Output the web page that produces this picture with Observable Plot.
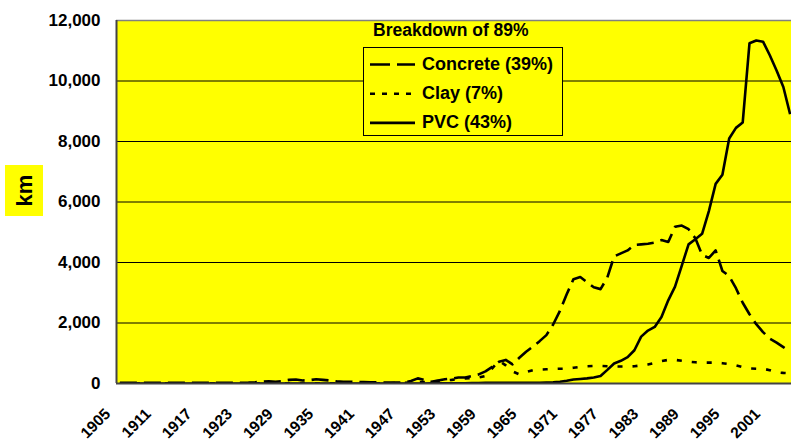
<!DOCTYPE html>
<html><head><meta charset="utf-8">
<script src="https://cdn.jsdelivr.net/npm/d3@7"></script>
<script src="https://cdn.jsdelivr.net/npm/@observablehq/plot@0.6"></script>
<style>
body{margin:0;background:#fff;font-family:"Liberation Sans",Arial,sans-serif;}
#wrap{position:relative;width:791px;height:441px;overflow:hidden;}
#overlay{position:absolute;left:0;top:0;pointer-events:none;}
</style></head>
<body><div id="wrap"></div>
<script>
// ---- data (km per year) ----
const years = d3.range(1905, 2005);
const concrete = [
  20,20,20,20,20,20,20,20,20,20, 20,20,20,20,20,20,20,20,25,30,
  40,60,70,60,80,120,130,100,110,140, 120,100,70,60,60,50,50,40,40,30,
  30,30,40,80,170,120,60,100,
  140,160,200,200,250,300,400,550,720,780, 630,850,1050,1220,1400,1600,1950,2400,2950,3450,
  3520,3350,3180,3120,3500,4200,4300,4400,4580,4600, 4620,4660,4740,4680,5180,5220,5100,4800,4250,4150,
  4400,3720,3550,3150,2670,2290,1960,1700,1480,1350, 1200,1050];
const clay = [
  10,10,10,10,10,10,10,10,10,10, 10,10,10,10,10,10,10,10,10,10,
  10,10,10,10,10,10,10,10,10,10, 10,10,10,10,10,10,10,10,10,10,
  10,15,20,30,40,50,60,80,
  100,120,150,170,180,200,250,500,750,600, 400,300,380,440,460,470,480,490,490,520,
  550,570,580,580,570,560,560,560,570,600, 630,680,740,780,780,750,720,700,690,690,
  690,670,640,600,540,500,490,490,440,370, 350,340];
const pvc = [
  0,0,0,0,0,0,0,0,0,0, 0,0,0,0,0,0,0,0,0,0,
  0,0,0,0,0,0,0,0,0,0, 0,0,0,0,0,0,0,0,0,0,
  0,0,0,0,0,0,5,5,
  5,10,10,10,15,15,20,20,20,20, 20,20,20,20,20,30,40,60,90,130,
  150,170,200,250,450,660,750,870,1100,1550, 1750,1870,2200,2750,3200,3900,4600,4770,4950,5700,
  6600,6900,8100,8450,8630,11250,11340,11300,10850,10350, 9800,8900];
const seriesNames = ["Concrete (39%)", "Clay (7%)", "PVC (43%)"];
const seriesDash = ["17,7", "5,10", null];
const legendDash = ["20,7", "5,7", null];
const yTicks = [0, 2000, 4000, 6000, 8000, 10000, 12000];
const xTicks = [1905,1911,1917,1923,1929,1935,1941,1947,1953,1959,1965,1971,1977,1983,1989,1995,2001];
const yLabel = "km";
const legendTitle = "Breakdown of 89%";

const seriesValues = [concrete, clay, pvc];
const data = seriesNames.flatMap((name, s) => years.map((yr, i) => ({year: yr, km: seriesValues[s][i], series: name})));

const W = 791, H = 441, mL = 116, mT = 20, mB = 58, pxPerYear = 6.77;
const x0 = years[0] - 0.5, x1 = x0 + (W - mL) / pxPerYear;

const chart = Plot.plot({
  width: W, height: H,
  marginLeft: mL, marginRight: 0, marginTop: mT, marginBottom: mB,
  x: {domain: [x0, x1], axis: null},
  y: {domain: [0, 12000]},
  style: {fontFamily: "'Liberation Sans', Arial, sans-serif", fontWeight: "bold", background: "transparent", color: "#000"},
  marks: [
    Plot.frame({fill: "#ffff00", stroke: null}),
    Plot.ruleY(yTicks.filter(d => d > 0 && d < 12000), {stroke: "#000", strokeWidth: 1}),
    Plot.ruleY([12000], {stroke: "#808080", strokeWidth: 1.5}),
    ...seriesNames.map((name, s) => Plot.line(data.filter(d => d.series === name), {
      x: "year", y: "km", stroke: "#000", strokeWidth: 2.6,
      strokeDasharray: seriesDash[s], strokeLinecap: "butt", strokeLinejoin: "round", clip: true
    })),
    Plot.ruleX([x0], {stroke: "#444", strokeWidth: 2}),
    Plot.ruleY([0], {stroke: "#444", strokeWidth: 2}),
    Plot.axisY({ticks: yTicks, tickFormat: d3.format(","), tickSize: 0, tickPadding: 16, fontSize: 17, fontWeight: "bold", label: null})
  ]
});
document.getElementById("wrap").appendChild(chart);

// ---- overlay: rotated x tick labels (positioned with the chart's x scale), axis title, legend ----
const xs = chart.scale("x");
const ov = d3.select("#wrap").append("svg").attr("id", "overlay").attr("width", W).attr("height", H)
  .style("font-family", "'Liberation Sans', Arial, sans-serif").style("font-weight", "bold");
const xAxisY = H - mB;
ov.append("g").selectAll("text").data(xTicks).join("text")
  .attr("transform", d => `translate(${xs.apply(d) - 16},${xAxisY + 24}) rotate(-45)`)
  .attr("text-anchor", "end").attr("dy", "0.72em").attr("font-size", 15.5).text(d => String(d));
ov.append("rect").attr("x", 5).attr("y", 165).attr("width", 38).attr("height", 51).attr("fill", "#ffff00");
ov.append("text").attr("transform", "translate(32,190.5) rotate(-90)").attr("text-anchor", "middle")
  .attr("font-size", 22).text(yLabel);
ov.append("text").attr("x", 373).attr("y", 36).attr("font-size", 17.5).text(legendTitle);
const lg = ov.append("g").attr("transform", "translate(363,47)");
lg.append("rect").attr("x", 0.5).attr("y", 0.5).attr("width", 199).attr("height", 88)
  .attr("fill", "#ffff00").attr("stroke", "#000").attr("stroke-width", 1);
seriesNames.forEach((name, s) => {
  const cy = 17.5 + s * 29.2;
  lg.append("line").attr("x1", 7).attr("x2", 52).attr("y1", cy).attr("y2", cy)
    .attr("stroke", "#000").attr("stroke-width", 2.6).attr("stroke-dasharray", legendDash[s]);
  lg.append("text").attr("x", 59).attr("y", cy + 5.3).attr("font-size", 18).text(name);
});
</script></body></html>
